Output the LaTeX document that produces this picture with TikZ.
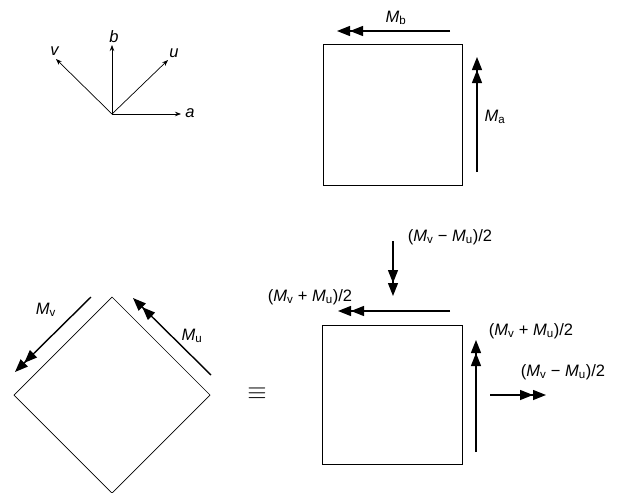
\documentclass[tikz,border=0pt]{standalone}
\usepackage{fontspec}
\setmainfont{Liberation Sans}
\usetikzlibrary{arrows.meta}
\newcommand{\Mvv}{\textit{M}\textsubscript{v}}
\newcommand{\Muu}{\textit{M}\textsubscript{u}}
\begin{document}
\begin{tikzpicture}[x=1pt,y=-1pt,
  lbl/.style={font=\fontsize{16.5}{18}\selectfont, inner sep=0pt},
  axis/.style={line width=0.7pt,-{Stealth[length=6pt,width=4.5pt]}},
  moment/.style={line width=1.4pt,-{Triangle[length=13pt,width=10pt]Triangle[length=13pt,width=10pt]}},
  plate/.style={draw,line width=0.7pt}]
\useasboundingbox (0,0) rectangle (619,493);
% axes
\coordinate (o) at (112,114);
\coordinate (ta) at (181,114);
\coordinate (tb) at (112,45);
\coordinate (tu) at (168,60);
\coordinate (tv) at (56,59);
\draw[axis] (o) -- (ta);
\draw[axis] (o) -- (tb);
\draw[axis] (o) -- (tu);
\draw[axis] (o) -- (tv);
\node[lbl] (la) at (190,113) {\textit{a}};
\node[lbl] (lb) at (114,37) {\textit{b}};
\node[lbl] (lu) at (174,53) {\textit{u}};
\node[lbl] (lv) at (55,51) {\textit{v}};
% top square
\draw[plate] (323,44) rectangle (462,185);
\coordinate (mb1) at (450,31);
\coordinate (mb2) at (337,31);
\draw[moment] (mb1) -- (mb2);
\node[lbl] (lmb) at (396,18) {\textit{M}\textsubscript{b}};
\coordinate (ma1) at (477,172);
\coordinate (ma2) at (477,57);
\draw[moment] (ma1) -- (ma2);
\node[lbl] (lma) at (495,117) {\textit{M}\textsubscript{a}};
% diamond
\draw[plate] (112,297) -- (210,395) -- (112,493) -- (14,395) -- cycle;
\coordinate (mv1) at (91,297);
\coordinate (mv2) at (15,372);
\draw[moment] (mv1) -- (mv2);
\node[lbl] (lmv) at (46,310) {\Mvv};
\coordinate (mu1) at (211,375);
\coordinate (mu2) at (133,298);
\draw[moment] (mu1) -- (mu2);
\node[lbl] (lmu) at (192,336) {\Muu};
\node[font=\fontsize{26}{28}\selectfont, inner sep=0pt] (eq) at (257,394) {$\equiv$};
% bottom square
\draw[plate] (322,325) rectangle (462,464);
\coordinate (h1) at (450,311);
\coordinate (h2) at (338,311);
\draw[moment] (h1) -- (h2);
\node[lbl] (lh) at (310,297) {(\Mvv{} + \Muu)/2};
\coordinate (d1) at (393,241);
\coordinate (d2) at (393,296);
\draw[moment] (d1) -- (d2);
\node[lbl] (ld) at (450,237) {(\Mvv{} − \Muu)/2};
\coordinate (r1) at (476,452);
\coordinate (r2) at (476,340);
\draw[moment] (r1) -- (r2);
\node[lbl] (lr) at (531,331) {(\Mvv{} + \Muu)/2};
\coordinate (s1) at (490,395);
\coordinate (s2) at (546,395);
\draw[moment] (s1) -- (s2);
\node[lbl] (ls) at (563,372) {(\Mvv{} − \Muu)/2};
\end{tikzpicture}
\end{document}
